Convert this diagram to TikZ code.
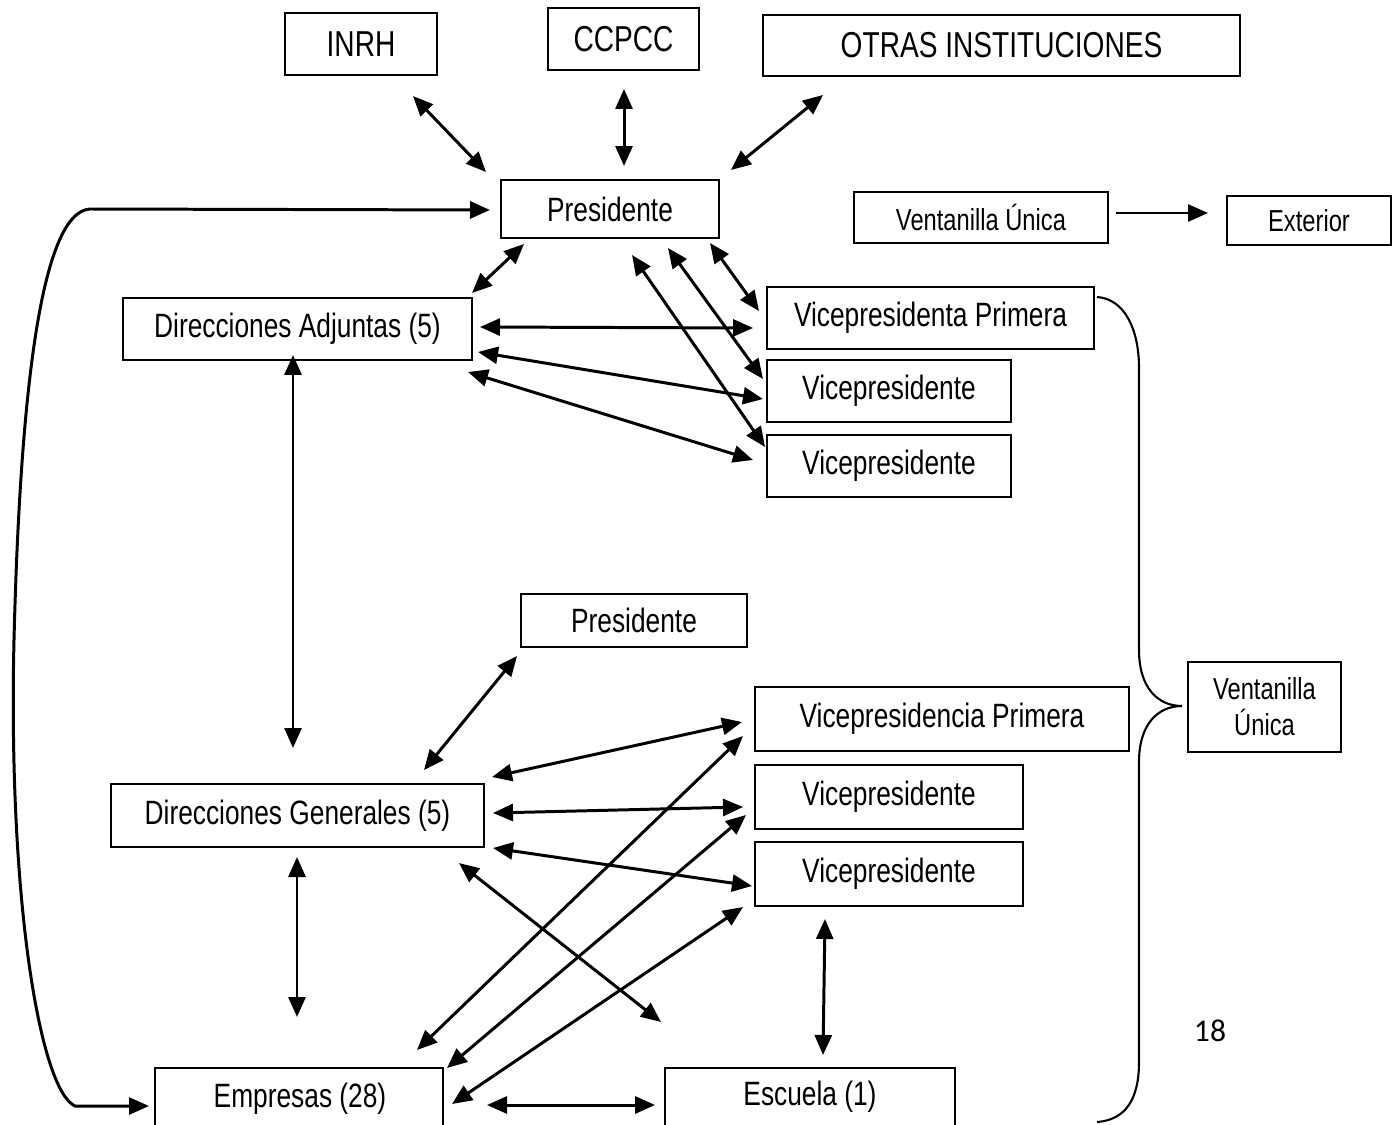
\documentclass[tikz,border=0pt]{standalone}
\usepackage{fontspec}
\setmainfont{Liberation Sans}
\newfontfamily\lsans{Liberation Sans}[FakeStretch=0.78]
\newfontfamily\calib{Carlito}
\usetikzlibrary{arrows.meta}
\tikzset{
  box/.style={draw, line width=1.1pt, inner sep=0pt, outer sep=0pt, align=center},
  fmain/.style={font=\lsans\fontsize{19.2}{22}\selectfont},
  ftop/.style={font=\lsans\fontsize{20.5}{23}\selectfont},
  fsmall/.style={font=\lsans\fontsize{17.3}{20.5}\selectfont},
  tipx/.tip={Triangle[length=0.4cm,width=0.34cm]},
  conn/.style={line width=1.7pt, tipx-tipx},
  oneway/.style={line width=1.7pt, -tipx},
}
\newcommand\bx[7]{%
  \pgfmathsetmacro\bxw{(#5-#3)*0.02}%
  \pgfmathsetmacro\bxh{(#6-#4)*0.02}%
  \pgfmathsetmacro\bxcx{(#3+#5)/2}%
  \pgfmathsetmacro\bxcy{(#4+#6)/2}%
  \node[box,#2,minimum width=\bxw cm,minimum height=\bxh cm] (#1) at (\bxcx,\bxcy) {#7};}
\begin{document}
\begin{tikzpicture}[x=0.02cm,y=-0.02cm]
\path[use as bounding box, clip] (0,0) rectangle (1400,1125);
% boxes
\bx{inrh}{ftop}{285}{13}{437}{75}{INRH}
\bx{ccpcc}{ftop}{548}{8}{699}{70}{CCPCC}
\bx{otras}{ftop}{763}{15}{1240}{76}{OTRAS INSTITUCIONES}
\bx{pres}{fmain}{501}{180}{719}{238}{Presidente}
\bx{vu}{fsmall}{854}{192}{1108}{243}{Ventanilla Única}
\bx{ext}{fsmall}{1227}{196}{1391}{245}{Exterior}
\bx{diradj}{fmain}{123}{298}{472}{360}{Direcciones Adjuntas (5)}
\bx{vpp}{fmain}{767}{287}{1094}{349}{Vicepresidenta Primera}
\bx{vicea}{fmain}{767}{360}{1011}{422}{Vicepresidente}
\bx{viceb}{fmain}{767}{435}{1011}{497}{Vicepresidente}
\bx{presb}{fmain}{521}{594}{747}{647}{Presidente}
\bx{vpb}{fmain}{755}{687}{1129}{751}{Vicepresidencia Primera}
\bx{vur}{fsmall}{1188}{662}{1341}{752}{Ventanilla\\Única}
\bx{dirgen}{fmain}{111}{784}{484}{847}{Direcciones Generales (5)}
\bx{vicec}{fmain}{755}{765}{1023}{829}{Vicepresidente}
\bx{vided}{fmain}{755}{842}{1023}{906}{Vicepresidente}
\node[box,fmain,minimum width=5.76cm,minimum height=1.6cm,anchor=north west] (emp) at (155,1068) {};
\node[fmain] (empt) at (300,1099) {Empresas (28)};
\node[box,fmain,minimum width=5.8cm,minimum height=1.6cm,anchor=north west] (esc) at (665,1068) {};
\node[fmain] (esct) at (810,1097) {Escuela (1)};
\node[font=\calib\fontsize{18}{20}\selectfont] (pg) at (1210,1031) {18};
% endpoint coordinates
\coordinate (a1s) at (413,96);  \coordinate (a1e) at (486,172);
\coordinate (a2s) at (624,89);  \coordinate (a2e) at (624,166);
\coordinate (a3s) at (823,95);  \coordinate (a3e) at (731,170);
\coordinate (a5s) at (524,244); \coordinate (a5e) at (472,293);
\coordinate (a6s) at (480,327); \coordinate (a6e) at (753,328);
\coordinate (a7s) at (478,352); \coordinate (a7e) at (763,399);
\coordinate (a8s) at (468,372); \coordinate (a8e) at (753,460);
\coordinate (a9s) at (710,243); \coordinate (a9e) at (759,311);
\coordinate (a10s) at (668,248); \coordinate (a10e) at (763,379);
\coordinate (a11s) at (632,255); \coordinate (a11e) at (765,447);
\coordinate (a12s) at (1116,213); \coordinate (a12e) at (1208,213);
\coordinate (a13s) at (293,355); \coordinate (a13e) at (293,748);
\coordinate (a14s) at (517,656); \coordinate (a14e) at (424,770);
\coordinate (a15s) at (492,777); \coordinate (a15e) at (742,722);
\coordinate (a16s) at (493,813); \coordinate (a16e) at (743,807);
\coordinate (a17s) at (493,848); \coordinate (a17e) at (752,886);
\coordinate (a18s) at (459,863); \coordinate (a18e) at (661,1022);
\coordinate (a19s) at (297,857); \coordinate (a19e) at (297,1017);
\coordinate (a20s) at (417,1050); \coordinate (a20e) at (743,736);
\coordinate (a21s) at (447,1068); \coordinate (a21e) at (746,815);
\coordinate (a22s) at (452,1104); \coordinate (a22e) at (743,907);
\coordinate (a23s) at (487,1105); \coordinate (a23e) at (655,1105);
\coordinate (a24s) at (825,919); \coordinate (a24e) at (823,1055);
\coordinate (lps) at (490,210); \coordinate (lpe) at (149,1106);
% connectors
\foreach \i in {1,2,3,5,6,7,8,9,10,11,13,14,15,16,17,18,19,20,21,22,23,24}
  \draw[conn] (a\i s) -- (a\i e);
\draw[oneway] (a12s) -- (a12e);
\draw[conn] (lps) -- (90,209) .. controls (40,212) and (20,400) .. (14,640)
  .. controls (8,900) and (40,1090) .. (75,1106) -- (lpe);
% brace
\coordinate (brs) at (1097,297);
\coordinate (bre) at (1097,1122);
\draw[line width=1.2pt] (brs) .. controls (1125,299) and (1139,330) .. (1139,368)
  -- (1139,650) .. controls (1139,688) and (1158,706) .. (1182,706)
  .. controls (1158,706) and (1139,724) .. (1139,762)
  -- (1139,1062) .. controls (1139,1100) and (1125,1120) .. (bre);
\end{tikzpicture}
\end{document}
